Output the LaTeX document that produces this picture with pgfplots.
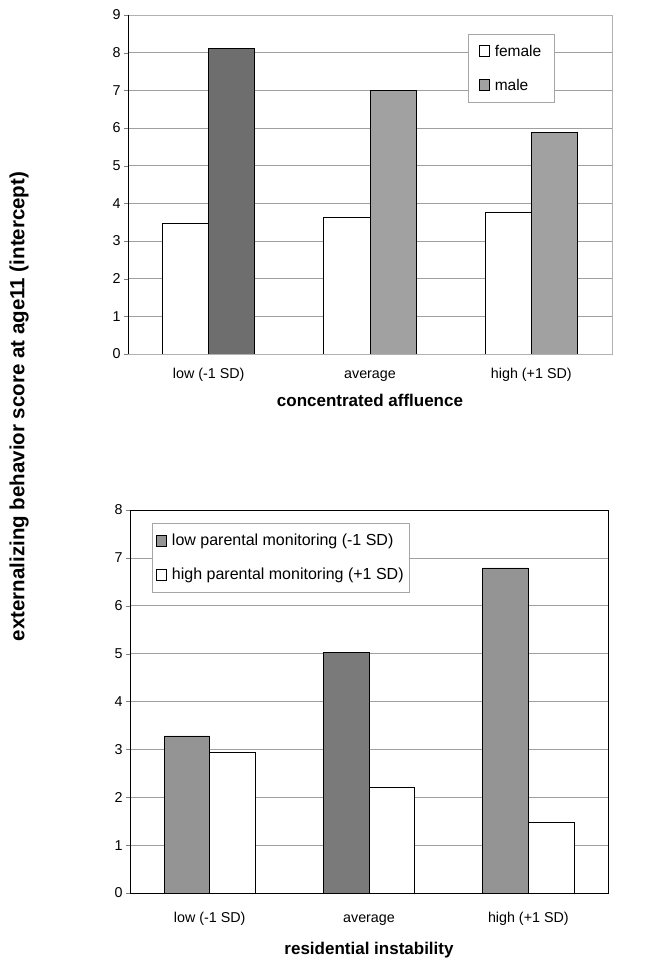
\documentclass[border=0pt]{standalone}
\usepackage{fontspec}
\setmainfont{Liberation Sans}
\usepackage{pgfplots}
\pgfplotsset{compat=1.18}
\begin{document}
\begin{tikzpicture}[x=1bp,y=1bp]
\path[use as bounding box] (0bp,0bp) rectangle (651bp,967bp);
\pgfplotsset{
  every axis/.append style={
    scale only axis,
    anchor=south west,
    ybar,
    bar width=0.286,
    xmin=-0.5, xmax=2.5,
    xtick={0,1,2},
    xticklabels={low (-1 SD),average,high (+1 SD)},
    major x tick style={draw=none},
    extra x ticks={0.5,1.5},
    extra x tick labels={},
    extra x tick style={major tick length=5bp, tick style={black, thin}, xmajorgrids=false},
    tick align=outside,
    tick pos=left,
    major tick length=4bp,
    ymajorgrids,
    grid style={gray!75, line width=0.6pt},
    axis line style={black, line width=0.6pt},
    /pgf/number format/assume math mode=true,
    tick label style={font=\fontsize{14.3bp}{16bp}\selectfont},
    label style={font=\fontsize{17bp}{20bp}\selectfont\bfseries},
    legend cell align=left,
    legend style={draw=gray!70, line width=0.6pt, font=\fontsize{16bp}{18bp}\selectfont,
      inner ysep=9bp, row sep=17bp},
    legend image code/.code={\draw[#1, draw=black, line width=0.6pt] (0bp,-5bp) rectangle (10bp,6bp);\path (13bp,0bp);},
  }
}
% top chart
\begin{axis}[
  at={(128bp,613bp)}, width=484bp, height=339bp,
  ymin=0, ymax=9, ytick={0,1,...,9},
  axis line style={gray!60, line width=0.5pt},
  xlabel={concentrated affluence},
  xlabel style={at={(axis description cs:0.5,0)}, anchor=center, yshift=-46bp},
  xticklabel style={yshift=-10bp, text height=0.75em, text depth=0.25em},
  legend style={at={(rel axis cs:0.702,0.944)}, anchor=north west, inner xsep=11bp,
    font=\fontsize{15.5bp}{18bp}\selectfont},
]
\addplot[fill=white, draw=black, line width=0.8pt, bar shift=-0.143] coordinates {(0,3.47) (1,3.62) (2,3.76)};
\addplot[fill=black!37, draw=black, line width=0.8pt, bar shift=0.143] coordinates {(1,7.0) (2,5.87)};
\addplot[fill=black!57, draw=black, line width=0.8pt, bar shift=0.143, forget plot] coordinates {(0,8.11)};
\draw[black, line width=0.6pt] (rel axis cs:0,1) -- (rel axis cs:0,0) -- (rel axis cs:1,0);
\legend{female,male}
\end{axis}
% bottom chart
\begin{axis}[
  at={(130bp,74bp)}, width=478bp, height=383bp,
  ymin=0, ymax=8, ytick={0,1,...,8},
  xlabel={residential instability},
  xlabel style={at={(axis description cs:0.5,0)}, anchor=center, yshift=-57bp},
  xticklabel style={yshift=-15bp, text height=0.75em, text depth=0.25em},
  legend style={at={(rel axis cs:0.046,0.966)}, anchor=north west, inner xsep=4bp},
]
\addplot[fill=black!42, draw=black, line width=0.8pt, bar shift=-0.143] coordinates {(0,3.28) (2,6.79)};
\addplot[fill=black!52, draw=black, line width=0.8pt, bar shift=-0.143, forget plot] coordinates {(1,5.03)};
\addplot[fill=white, draw=black, line width=0.8pt, bar shift=0.143] coordinates {(0,2.94) (1,2.20) (2,1.48)};
\legend{low parental monitoring (-1 SD),high parental monitoring (+1 SD)}
\end{axis}
\node[rotate=90, font=\fontsize{20.5bp}{24bp}\selectfont\bfseries] at (19bp,560.5bp) {externalizing behavior score at age11 (intercept)};
\end{tikzpicture}
\end{document}
